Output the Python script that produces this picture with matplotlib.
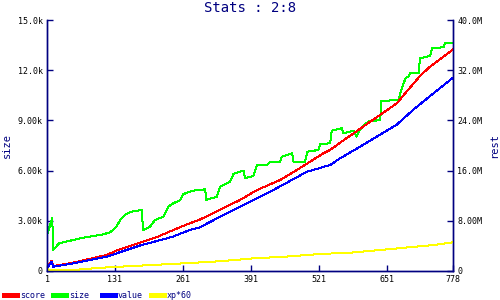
import matplotlib
matplotlib.use("Agg")
import matplotlib.pyplot as plt
from matplotlib.lines import Line2D

NAVY = "#000080"

# size (left axis, in units)
size_x = [1, 11, 13, 24, 64, 108, 122, 134, 141, 150, 163, 182, 185, 198, 208, 224,
          233, 243, 256, 262, 281, 304, 305, 326, 332, 351, 358, 377, 380, 396, 403,
          422, 428, 447, 450, 470, 473, 495, 499, 520, 524, 543, 546, 565, 568, 588,
          593, 600, 604, 616, 639, 640, 674, 677, 687, 693, 696, 712, 715, 734, 738,
          760, 763, 778]
size_y = [2150, 3150, 1250, 1650, 1950, 2190, 2310, 2650, 3050, 3350, 3550, 3650, 2450,
          2650, 3050, 3250, 3850, 4050, 4240, 4600, 4800, 4880, 4240, 4440, 5040, 5340,
          5800, 6000, 5540, 5680, 6340, 6340, 6500, 6500, 6830, 7030, 6530, 6530, 7130,
          7230, 7590, 7630, 8380, 8530, 8230, 8390, 8030, 8430, 8630, 8930, 9030, 10160,
          10220, 10620, 11520, 11620, 11820, 11820, 12710, 12850, 13310, 13370, 13650,
          13650]

# score (right axis)
score_x = [1, 10, 13, 51, 115, 137, 178, 210, 255, 274, 292, 370, 403, 447, 485, 530,
           543, 562, 606, 670, 714, 733, 778]
score_y = [0.69e6, 1.64e6, 0.8e6, 1.33e6, 2.55e6, 3.35e6, 4.5e6, 5.37e6, 6.96e6, 7.6e6,
           8.13e6, 11.3e6, 12.9e6, 14.5e6, 16.4e6, 18.76e6, 19.3e6, 20.45e6, 23.0e6,
           26.7e6, 31.0e6, 32.5e6, 35.3e6]

# value (right axis)
value_x = [1, 10, 13, 51, 115, 178, 242, 274, 292, 370, 434, 498, 543, 562, 606, 670,
           702, 733, 778]
value_y = [0.42e6, 1.48e6, 0.69e6, 1.22e6, 2.28e6, 4.04e6, 5.47e6, 6.53e6, 6.91e6,
           10.25e6, 12.9e6, 15.8e6, 16.9e6, 17.96e6, 20.1e6, 23.3e6, 25.7e6, 27.8e6,
           30.8e6]

# xp*60 (right axis)
xp_x = [1, 12, 25, 58, 102, 141, 262, 332, 396, 460, 524, 587, 639, 690, 741, 778]
xp_y = [0.3e6, 0.1e6, 0.1e6, 0.2e6, 0.5e6, 0.69e6, 1.22e6, 1.55e6, 2.02e6, 2.3e6,
        2.71e6, 2.95e6, 3.35e6, 3.75e6, 4.14e6, 4.57e6]

x_ticks = [1, 131, 261, 391, 521, 651, 778]
left_ticks = [0, 3000, 6000, 9000, 12000, 15000]
left_labels = ["0", "3.00k", "6.00k", "9.00k", "12.0k", "15.0k"]
right_ticks = [0, 8e6, 16e6, 24e6, 32e6, 40e6]
right_labels = ["0", "8.00M", "16.0M", "24.0M", "32.0M", "40.0M"]

names = ["score", "size", "value", "xp*60"]
colors = ["#ff0000", "#00ff00", "#0000ff", "#ffff00"]

plt.rcParams["font.family"] = "DejaVu Sans Mono"
LW = 0.72  # one pixel at 100 dpi

fig = plt.figure(figsize=(5, 3), dpi=100)
ax = fig.add_axes([47 / 500, 29 / 300, 406 / 500, 251 / 300])
ax2 = ax.twinx()

ax.plot(size_x, size_y, color=colors[1], lw=LW, antialiased=False)
ax2.plot(score_x, score_y, color=colors[0], lw=LW, antialiased=False)
ax2.plot(value_x, value_y, color=colors[2], lw=LW, antialiased=False)
ax2.plot(xp_x, xp_y, color=colors[3], lw=LW, antialiased=False)

ax.set_xlim(1, 778)
ax.set_ylim(0, 15000)
ax2.set_ylim(0, 40e6)
ax.set_xticks(x_ticks)
ax.set_xticklabels([str(t) for t in x_ticks])
ax.set_yticks(left_ticks)
ax.set_yticklabels(left_labels)
ax2.set_yticks(right_ticks)
ax2.set_yticklabels(right_labels)

for a in (ax, ax2):
    for s in a.spines.values():
        s.set_color(NAVY)
        s.set_linewidth(1)
    a.spines["top"].set_visible(False)
    a.tick_params(direction="in", length=4, width=1, color=NAVY,
                  labelsize=6, labelcolor="black", pad=3)

fig.text(7 / 500, 1 - 145 / 300, "size", color=NAVY, fontsize=7.5,
         rotation=90, ha="center", va="center")
fig.text(494 / 500, 1 - 145 / 300, "rest", color=NAVY, fontsize=7.5,
         rotation=90, ha="center", va="center")

fig.text(0.5, 1 - 8 / 300, "Stats : 2:8", color=NAVY, fontsize=10,
         ha="center", va="center")

# legend row under the chart
for i, (name, c) in enumerate(zip(names, colors)):
    x0 = (4 + i * 49) / 500
    fig.add_artist(Line2D([x0, x0 + 13 / 500], [1 - 295 / 300] * 2, color=c, lw=2.2,
                          antialiased=False))
    fig.text(x0 + 16 / 500, 1 - 295 / 300, name, color=NAVY, fontsize=6,
             ha="left", va="center")

fig.savefig("out.png", dpi=100)
